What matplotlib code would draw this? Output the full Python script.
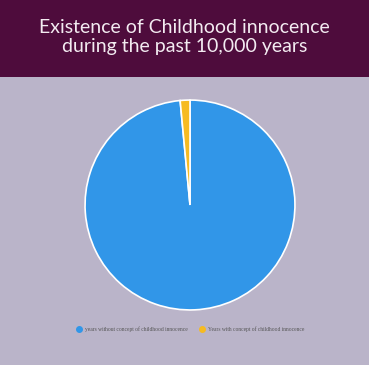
import matplotlib.pyplot as plt
from matplotlib.lines import Line2D

labels = ["years without concept of childhood innocence", "Years with concept of childhood innocence"]
values = [9850, 150]
colors = ["#3196e8", "#f6bb22"]
title = "Existence of Childhood innocence\nduring the past 10,000 years"

fig = plt.figure(figsize=(3.69, 3.65), dpi=100)
fig.patch.set_facecolor("#bab4c9")

# header band
hdr = fig.add_axes([0, 1 - 77 / 365, 1, 77 / 365])
hdr.set_facecolor("#4e0c3c")
hdr.set_xticks([])
hdr.set_yticks([])
for s in hdr.spines.values():
    s.set_visible(False)
hdr.text(0.5, 0.52, title, ha="center", va="center", color="#f3ebf1",
         fontsize=14, family="Lato", linespacing=1.15)

# pie
r = 106
cx, cy = 190, 365 - 205
ax = fig.add_axes([(cx - r) / 369, (cy - r) / 365, (2 * r) / 369, (2 * r) / 365])
ax.pie(values, colors=colors, startangle=90, counterclock=False,
       wedgeprops=dict(edgecolor="white", linewidth=1.2), frame=False)
ax.set_xlim(-1.01, 1.01)
ax.set_ylim(-1.01, 1.01)
ax.set_aspect("equal")
ax.axis("off")

handles = [Line2D([0], [0], marker="o", color="none", markerfacecolor=c,
                  markeredgecolor=c, markersize=4) for c in colors]
leg = fig.legend(handles, labels, loc="center", ncol=2, frameon=False,
                 prop=dict(family="Liberation Serif", size=4.0),
                 labelcolor="#555555", handletextpad=0.5, columnspacing=2.0,
                 handlelength=1.2)
leg.set_bbox_to_anchor((190 / 369, 1 - 329 / 365), transform=fig.transFigure)

fig.savefig("out.png", dpi=100, facecolor=fig.get_facecolor())
